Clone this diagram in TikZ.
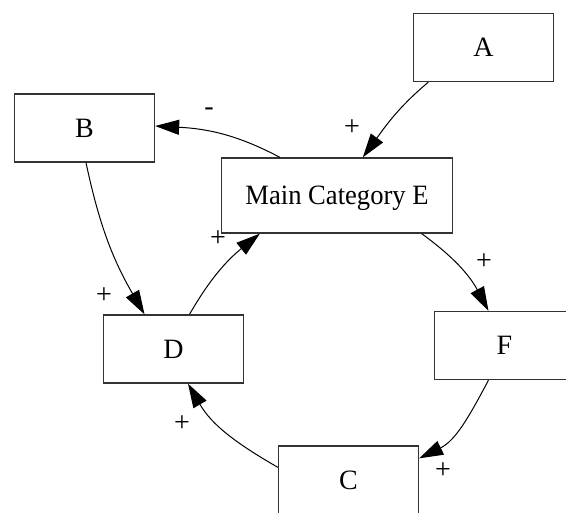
\documentclass[tikz,border=0pt]{standalone}
\usepackage{fontspec}
\setmainfont{Liberation Serif}
\usetikzlibrary{arrows.meta}
\begin{document}
\begin{tikzpicture}[x=1pt,y=1pt,
  box/.style={draw=black!80, line width=1.3pt, minimum width=140pt, minimum height=68pt,
    inner sep=0pt, text height=18.5pt, text depth=0pt, font=\fontsize{28}{32}\selectfont},
  lbl/.style={inner sep=0pt, font=\fontsize{28}{32}\selectfont},
  arr/.style={draw=black, line width=1pt, -{Triangle[length=24pt,width=15pt]}}]
\useasboundingbox (0,0) rectangle (566,-513);
\fill[white] (0,0) rectangle (566,-513);

\node[box] (A) at (483.5,-47.5) {A};
\node[box] (B) at (84.5,-128) {B};
\node[box, minimum width=231pt, minimum height=75pt] (E) at (337,-195.5)
  {\addfontfeature{FakeStretch=0.95}Main Category E};
\node[box] (D) at (173.5,-349) {D};
\node[box] (F) at (504.5,-345.5) {F};
\node[box] (C) at (348.5,-480) {C};

\draw[arr] ([xshift=15.5pt]A.south west) to[out=220,in=54] ([xshift=142pt]E.north west);
\draw[arr] ([xshift=59pt]E.north west) to[out=152,in=-3] ([yshift=2pt]B.east);
\draw[arr] ([xshift=1.5pt]B.south) to[out=-78,in=120] ([xshift=-29pt]D.north);
\draw[arr] ([xshift=16pt]D.north) to[out=60,in=219] ([xshift=39pt]E.south west);
\draw[arr] ([xshift=-31.5pt]E.south east) to[out=-36,in=118] ([xshift=-16pt]F.north);
\draw[arr] ([xshift=-16pt]F.south) to[out=242,in=26] ([yshift=-13pt]C.north east);
\draw[arr] ([yshift=-22pt]C.north west) to[out=150,in=-60] ([xshift=14.5pt]D.south);

\node[lbl] (l1) at (352,-128) {+};
\node[lbl] (l2) at (209,-112) {-};
\node[lbl] (l3) at (104,-296) {+};
\node[lbl] (l4) at (218,-239) {+};
\node[lbl] (l5) at (484,-262) {+};
\node[lbl] (l6) at (443,-471) {+};
\node[lbl] (l7) at (182,-424) {+};
\end{tikzpicture}
\end{document}
